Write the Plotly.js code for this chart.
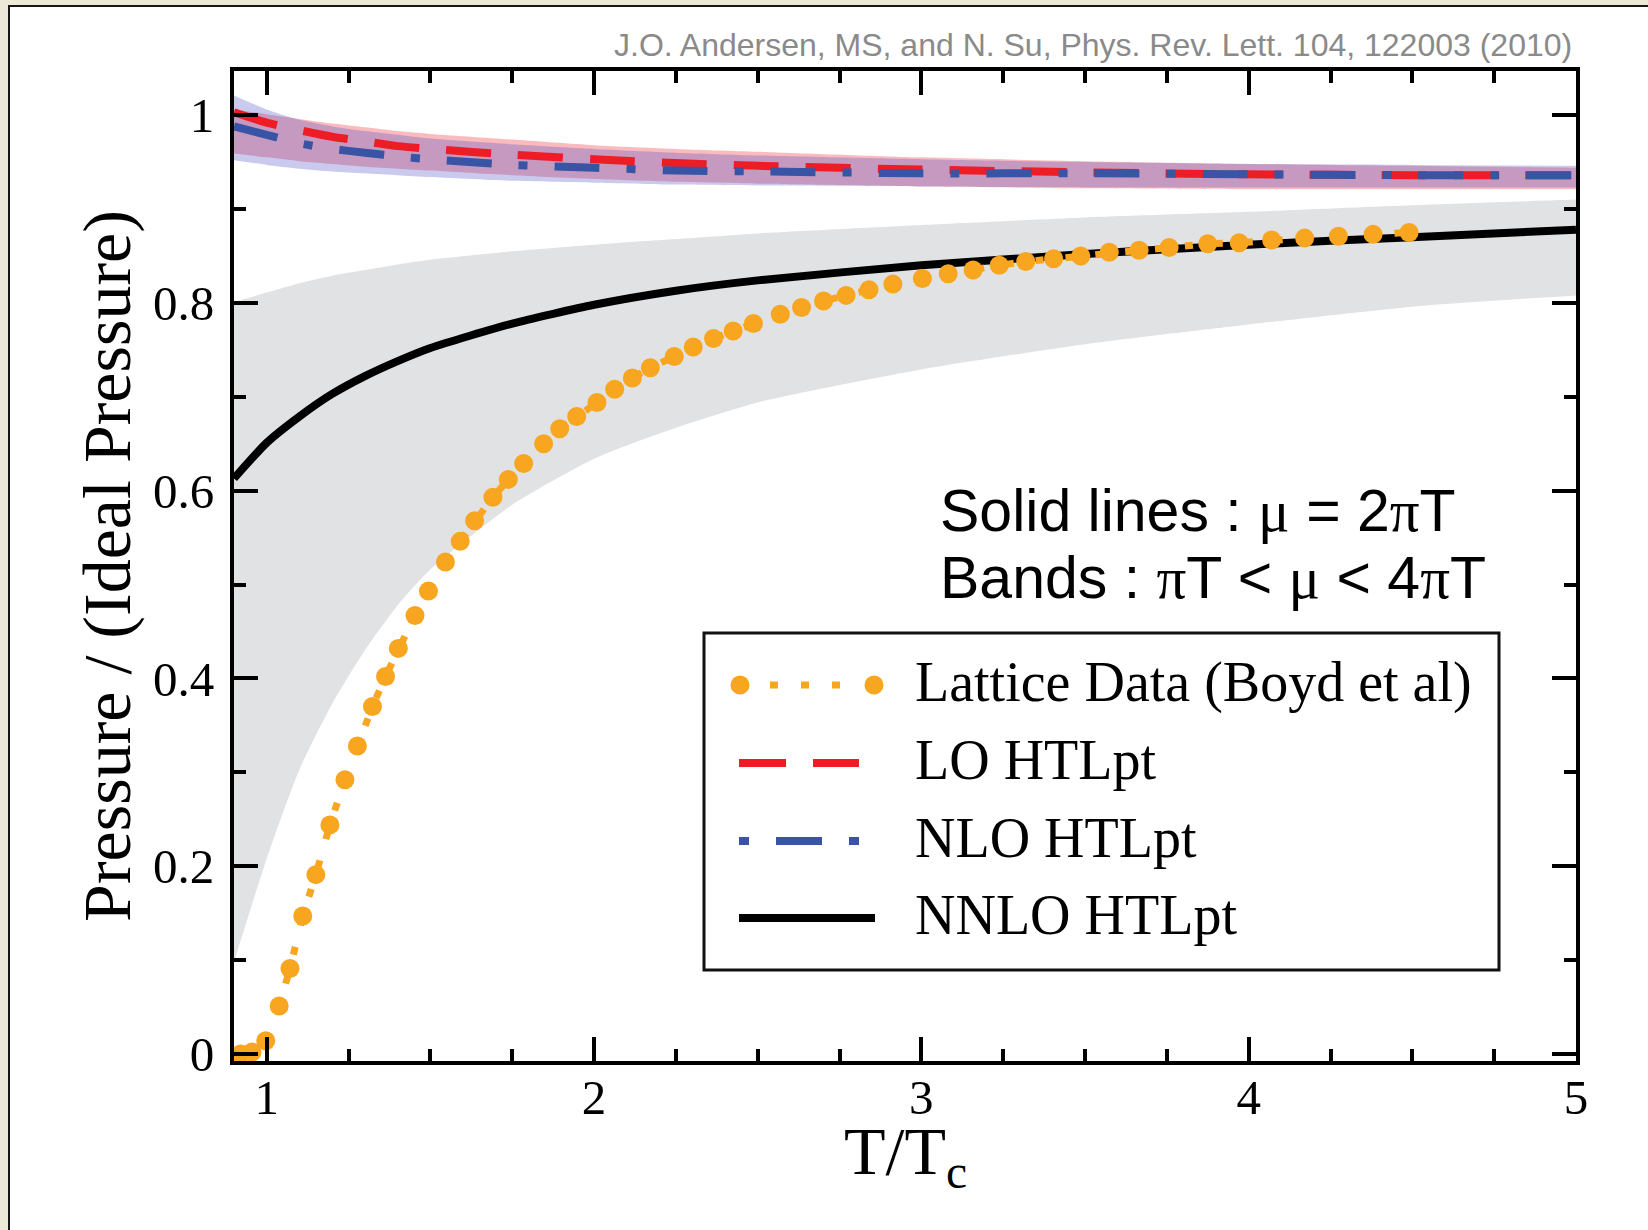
<!DOCTYPE html>
<html>
<head>
<meta charset="utf-8">
<script src="https://cdn.plot.ly/plotly-3.0.1.min.js"></script>
<style>
  html, body { margin:0; padding:0; width:1648px; height:1230px; overflow:hidden; background:#ECE9D8; }
  #panel { position:absolute; left:8px; top:5px; width:1640px; height:1225px; background:#ffffff;
           border-left:2px solid #161616; border-top:2px solid #161616; }
  #chart { position:absolute; left:0; top:0; width:1648px; height:1230px; }
</style>
</head>
<body>
<div id="panel"></div>
<div id="chart"></div>
<script>
// ---------- data ----------
const xModel      = [0.9, 1.0, 1.1, 1.2, 1.3, 1.4, 1.5, 1.75, 2.0, 2.25, 2.5, 3.0, 3.5, 4.0, 4.5, 5.0];
const loLine      = [1.003, 0.992, 0.984, 0.977, 0.972, 0.967, 0.964, 0.958, 0.953, 0.949, 0.946, 0.942, 0.939, 0.937, 0.936, 0.936];
const loBandLow   = [0.959, 0.955, 0.951, 0.948, 0.945, 0.943, 0.941, 0.936, 0.932, 0.929, 0.927, 0.924, 0.922, 0.921, 0.921, 0.921];
const loBandHigh  = [1.006, 1.001, 0.996, 0.991, 0.987, 0.983, 0.980, 0.974, 0.968, 0.964, 0.961, 0.955, 0.951, 0.948, 0.946, 0.944];
const nloLine     = [0.988, 0.979, 0.970, 0.964, 0.960, 0.956, 0.953, 0.947, 0.944, 0.941, 0.940, 0.938, 0.938, 0.937, 0.936, 0.936];
const nloBandLow  = [0.952, 0.947, 0.943, 0.940, 0.938, 0.936, 0.934, 0.930, 0.928, 0.926, 0.925, 0.924, 0.923, 0.923, 0.923, 0.923];
const nloBandHigh = [1.021, 1.006, 0.995, 0.988, 0.983, 0.979, 0.975, 0.969, 0.964, 0.960, 0.957, 0.953, 0.950, 0.948, 0.947, 0.946];
const nnloLine    = [0.613, 0.651, 0.679, 0.703, 0.722, 0.738, 0.752, 0.778, 0.798, 0.813, 0.824, 0.840, 0.852, 0.862, 0.870, 0.878];
const nnloBandLow = [0.098, 0.208, 0.303, 0.373, 0.430, 0.478, 0.516, 0.585, 0.634, 0.667, 0.694, 0.729, 0.756, 0.777, 0.796, 0.808];
const nnloBandHigh= [0.801, 0.811, 0.821, 0.829, 0.835, 0.841, 0.846, 0.855, 0.862, 0.868, 0.874, 0.883, 0.891, 0.897, 0.904, 0.910];

const latticeT = [0.920, 0.955, 0.997, 1.038, 1.071, 1.110, 1.150, 1.193, 1.239, 1.277, 1.323, 1.363, 1.402, 1.453, 1.494,
                  1.546, 1.591, 1.635, 1.691, 1.738, 1.785, 1.846, 1.895, 1.947, 2.009, 2.063, 2.117, 2.172, 2.245, 2.303,
                  2.365, 2.425, 2.487, 2.569, 2.634, 2.701, 2.770, 2.840, 2.913, 3.003, 3.082, 3.158, 3.238, 3.319, 3.404,
                  3.487, 3.574, 3.665, 3.757, 3.875, 3.971, 4.070, 4.171, 4.274, 4.380, 4.490];
const latticeP = [0.000, 0.002, 0.014, 0.051, 0.091, 0.147, 0.191, 0.244, 0.292, 0.328, 0.370, 0.402, 0.432, 0.467, 0.493,
                  0.524, 0.546, 0.568, 0.593, 0.612, 0.629, 0.650, 0.666, 0.679, 0.694, 0.708, 0.720, 0.731, 0.743, 0.753,
                  0.762, 0.770, 0.778, 0.788, 0.795, 0.802, 0.808, 0.814, 0.820, 0.826, 0.831, 0.835, 0.840, 0.844, 0.847,
                  0.850, 0.854, 0.856, 0.859, 0.863, 0.864, 0.867, 0.869, 0.871, 0.873, 0.875];

const legendLabels = ['Lattice Data (Boyd et al)', 'LO HTLpt', 'NLO HTLpt', 'NNLO HTLpt'];
const xTitle = 'T/T<sub>c</sub>';
const yTitle = 'Pressure / (Ideal Pressure)';
const credit = 'J.O. Andersen, MS, and N. Su, Phys. Rev. Lett. 104, 122003 (2010)';

// ---------- styles ----------
const ORANGE = '#F8A51F', RED = '#EE1D25', BLUE = '#3A54A5', BLACK = '#000000';
const SERIF = 'Liberation Serif, Times New Roman, serif';
const SANS = 'Liberation Sans, Arial, sans-serif';
const sym = s => '<span style="font-family:Liberation Serif">' + s + '</span>';

const noLine = {width: 0, color: 'rgba(0,0,0,0)', shape: 'spline', smoothing: 0.6};
const traces = [
  {x: xModel, y: nnloBandLow,  mode: 'lines', line: noLine, hoverinfo: 'skip'},
  {x: xModel, y: nnloBandHigh, mode: 'lines', line: noLine, fill: 'tonexty', fillcolor: '#E1E2E4', hoverinfo: 'skip'},
  {x: xModel, y: loBandLow,    mode: 'lines', line: noLine, hoverinfo: 'skip'},
  {x: xModel, y: loBandHigh,   mode: 'lines', line: noLine, fill: 'tonexty', fillcolor: 'rgba(238,30,40,0.30)', hoverinfo: 'skip'},
  {x: xModel, y: nloBandLow,   mode: 'lines', line: noLine, hoverinfo: 'skip'},
  {x: xModel, y: nloBandHigh,  mode: 'lines', line: noLine, fill: 'tonexty', fillcolor: 'rgba(80,80,200,0.30)', hoverinfo: 'skip'},
  {x: xModel, y: loLine,  mode: 'lines', name: legendLabels[1], line: {color: RED,  width: 8, dash: '45px,27px', shape: 'spline', smoothing: 0.6}},
  {x: xModel, y: nloLine, mode: 'lines', name: legendLabels[2], line: {color: BLUE, width: 8, dash: '45px,27px,9px,27px', shape: 'spline', smoothing: 0.6}},
  {x: xModel, y: nnloLine, mode: 'lines', name: legendLabels[3], line: {color: BLACK, width: 8, shape: 'spline', smoothing: 0.6}},
  {x: latticeT, y: latticeP, mode: 'lines+markers', name: legendLabels[0],
   line: {color: ORANGE, width: 7, dash: '8px,22px'},
   marker: {color: ORANGE, size: 19, symbol: 'circle', line: {width: 0}}}
];
traces.forEach(t => t.showlegend = false);

// paper coordinate helpers for the plot area (234..1576 x, 71..1061 y)
const PX = X => (X - 234) / 1342;
const PY = Y => (1061 - Y) / 990;

const rows = [685, 763, 841, 918];
const shapes = [
  {type: 'rect', xref: 'paper', yref: 'paper', x0: PX(704), x1: PX(1499), y0: PY(970), y1: PY(633),
   line: {color: '#111', width: 3}, fillcolor: 'rgba(0,0,0,0)'},
  // lattice sample
  {type: 'line', xref: 'paper', yref: 'paper', x0: PX(770), x1: PX(840), y0: PY(rows[0]), y1: PY(rows[0]),
   line: {color: ORANGE, width: 7, dash: '8px,23px'}},
  {type: 'circle', xref: 'paper', yref: 'paper', xsizemode: 'pixel', ysizemode: 'pixel',
   xanchor: PX(740), yanchor: PY(rows[0]), x0: -9.5, x1: 9.5, y0: -9.5, y1: 9.5, fillcolor: ORANGE, line: {width: 0}},
  {type: 'circle', xref: 'paper', yref: 'paper', xsizemode: 'pixel', ysizemode: 'pixel',
   xanchor: PX(874), yanchor: PY(rows[0]), x0: -9.5, x1: 9.5, y0: -9.5, y1: 9.5, fillcolor: ORANGE, line: {width: 0}},
  // LO sample
  {type: 'line', xref: 'paper', yref: 'paper', x0: PX(739), x1: PX(859), y0: PY(rows[1]), y1: PY(rows[1]),
   line: {color: RED, width: 8, dash: '47px,27px'}},
  // NLO sample
  {type: 'line', xref: 'paper', yref: 'paper', x0: PX(739), x1: PX(859), y0: PY(rows[2]), y1: PY(rows[2]),
   line: {color: BLUE, width: 8, dash: '10px,27px,46px,27px'}},
  // NNLO sample
  {type: 'line', xref: 'paper', yref: 'paper', x0: PX(739), x1: PX(875), y0: PY(rows[3]), y1: PY(rows[3]),
   line: {color: BLACK, width: 8}}
];

const annotations = legendLabels.map((t, i) => ({
  text: t, xref: 'paper', yref: 'paper', x: PX(913), y: PY(rows[i] - 3), xanchor: 'left', yanchor: 'middle',
  showarrow: false, font: {family: SERIF, size: 56, color: '#000'}
}));
annotations.push(
  {text: 'Solid lines : ' + sym('μ') + ' = 2' + sym('π') + 'T', xref: 'paper', yref: 'paper',
   x: PX(938), y: PY(511), xanchor: 'left', yanchor: 'middle', showarrow: false,
   font: {family: SANS, size: 59, color: '#000'}},
  {text: 'Bands : ' + sym('π') + 'T &lt; ' + sym('μ') + ' &lt; 4' + sym('π') + 'T', xref: 'paper', yref: 'paper',
   x: PX(938), y: PY(578), xanchor: 'left', yanchor: 'middle', showarrow: false,
   font: {family: SANS, size: 59, color: '#000'}},
  {text: credit, xref: 'paper', yref: 'paper', x: PX(1574), y: PY(45), xanchor: 'right', yanchor: 'middle',
   showarrow: false, font: {family: SANS, size: 32, color: '#8A8A8A'}},
  // x-axis title, placed as an annotation for precise vertical position
  {text: xTitle, xref: 'paper', yref: 'paper', x: 0.5, y: PY(1111), xanchor: 'center', yanchor: 'top',
   showarrow: false, font: {family: SERIF, size: 68, color: '#000'}}
);

const axisCommon = {
  ticks: 'inside', ticklen: 24, tickwidth: 4, tickcolor: '#000',
  showline: true, linewidth: 4, linecolor: '#000', mirror: 'allticks',
  showgrid: false, zeroline: false,
  tickfont: {family: SERIF, size: 49, color: '#000'}
};

const layout = {
  width: 1648, height: 1230,
  margin: {l: 234, r: 72, t: 71, b: 169},
  paper_bgcolor: 'rgba(0,0,0,0)', plot_bgcolor: 'rgba(0,0,0,0)',
  showlegend: false, hovermode: false,
  xaxis: Object.assign({}, axisCommon, {
    range: [0.9, 5.0], tick0: 0, dtick: 1, ticklabelstandoff: -10,
    minor: {tick0: 0, dtick: 0.25, ticks: 'inside', ticklen: 12, tickwidth: 4, tickcolor: '#000', showgrid: false}
  }),
  yaxis: Object.assign({}, axisCommon, {
    range: [-0.0075, 1.047], tick0: 0, dtick: 0.2, ticklabelstandoff: 6,
    minor: {tick0: 0, dtick: 0.1, ticks: 'inside', ticklen: 12, tickwidth: 4, tickcolor: '#000', showgrid: false},
    title: {text: yTitle, font: {family: SERIF, size: 68, color: '#000'}, standoff: 1}
  }),
  shapes: shapes,
  annotations: annotations
};

Plotly.newPlot('chart', traces, layout, {displayModeBar: false, staticPlot: true});
</script>
</body>
</html>
